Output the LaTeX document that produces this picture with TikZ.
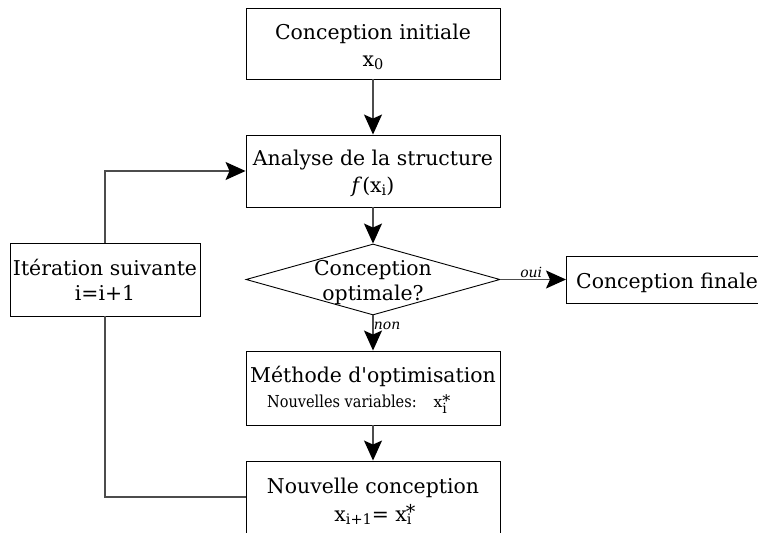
\documentclass[tikz,border=0pt]{standalone}
\usepackage{fontspec}
\setmainfont{DejaVu Serif}
\newfontfamily\condfont{DejaVu Serif}[FakeStretch=0.88]
\newfontfamily\qfont{DejaVu Serif}
\usetikzlibrary{shapes.geometric,arrows.meta}
\newcommand{\sub}[1]{\raisebox{-3pt}{\fontsize{14.5}{14.5}\selectfont #1}}
\newcommand{\xstar}{x\rlap{\hspace*{-1pt}\raisebox{2.5pt}{\fontsize{19}{19}\selectfont *}}\raisebox{-3.5pt}{\fontsize{14.5}{14.5}\selectfont i}}
\newcommand{\xstarsmall}{{\fontsize{15.5}{15.5}\selectfont x\rlap{\raisebox{1.5pt}{\fontsize{16}{16}\selectfont *}}\raisebox{-6pt}{\fontsize{14}{14}\selectfont i}}}
\begin{document}
\begin{tikzpicture}[x=1pt,y=1pt,
  box/.style={draw=black, line width=0.9pt, fill=white, inner sep=0pt, align=center, font=\fontsize{20.4}{27.5}\selectfont},
  conn/.style={draw=black!70, line width=1.2pt},
  arr/.style={conn, -{Stealth[length=20pt,width=18pt,inset=4pt,color=black]}},
  lab/.style={font=\fontsize{14}{14}\selectfont\itshape}]
\useasboundingbox (0,0) rectangle (758,533);
\node[box, minimum width=254, minimum height=71] (init) at (373,489.5) {};
\node[align=center, font=\fontsize{20.4}{27.5}\selectfont, inner sep=0pt] (initt) at (373,486) {Conception initiale\\ x\sub{0}};
\node[box, minimum width=254, minimum height=72] (anal) at (373,362) {};
\node[align=center, font=\fontsize{20.4}{27}\selectfont, inner sep=0pt] (analt) at (373,360) {Analyse de la structure\\ \textit{f}(x\sub{i})};
\node[draw=black, line width=0.9pt, diamond, aspect=3.58, minimum width=254, minimum height=71, inner sep=0pt] (dec) at (373,253.5) {};
\node[align=center, font=\fontsize{20.4}{25}\selectfont, inner sep=0pt] (dect) at (373,250) {Conception\\optimale?};
\node[box, minimum height=47, anchor=west, text width=204, align=left, inner xsep=10pt] (fin) at (566,253.5) {};
\node[anchor=west, font=\fontsize{20.4}{27}\selectfont, inner sep=0pt] (fint) at (576,250.5) {Conception finale};
\node[box, minimum width=254, minimum height=74] (meth) at (373,145) {};
\node[align=center, font=\fontsize{20.4}{25}\selectfont, inner sep=0pt] (metht) at (373,143) {Méthode d{\qfont\symbol{39}}optimisation\\ {\condfont\fontsize{16.5}{16.5}\selectfont Nouvelles variables:}\hspace{17pt}\xstarsmall\hspace*{32pt}};
\node[box, minimum width=254, minimum height=75] (nouv) at (373,34.5) {};
\node[align=center, font=\fontsize{20.4}{28}\selectfont, inner sep=0pt] (nouvt) at (373,31.5) {Nouvelle conception\\ x\sub{i+1}= \xstar};
\node[box, minimum width=190, minimum height=73] (iter) at (105,253.5) {};
\node[align=center, font=\fontsize{20.4}{25}\selectfont, inner sep=0pt] (itert) at (105,253.5) {Itération suivante\\ i=i+1};
\coordinate (c1) at (105,36);
\coordinate (c2) at (105,362);
\draw[arr] (init) -- (anal);
\draw[arr] (anal) -- (dec);
\draw[arr] (dec.east) -- node[lab, above, yshift=-2pt, xshift=-2pt] {oui} (fin.west);
\draw[arr] (dec.south) -- node[lab, right, pos=0.3, xshift=-3pt] {non} (meth.north);
\draw[arr] (meth) -- (nouv);
\draw[conn] (nouv.west |- c1) -- (c1) -- (iter.south);
\draw[arr] (iter.north) -- (c2) -- (anal.west);
\end{tikzpicture}
\end{document}
